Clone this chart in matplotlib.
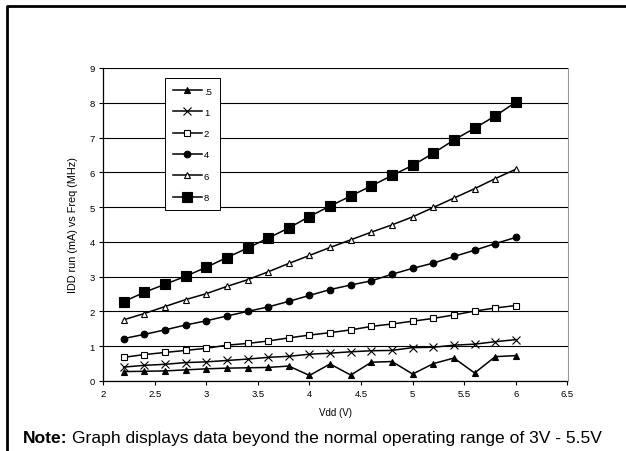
import matplotlib
matplotlib.use('Agg')
import matplotlib.pyplot as plt
from matplotlib.lines import Line2D

plt.rcParams['font.family'] = ['Liberation Sans', 'DejaVu Sans']

vdd = [2.2, 2.4, 2.6, 2.8, 3.0, 3.2, 3.4, 3.6, 3.8, 4.0,
       4.2, 4.4, 4.6, 4.8, 5.0, 5.2, 5.4, 5.6, 5.8, 6.0]

f05 = [0.27, 0.28, 0.29, 0.32, 0.35, 0.37, 0.38, 0.39, 0.43, 0.16,
       0.49, 0.17, 0.54, 0.56, 0.20, 0.50, 0.66, 0.23, 0.70, 0.73]
f1 = [0.40, 0.45, 0.48, 0.53, 0.55, 0.59, 0.63, 0.68, 0.71, 0.77,
      0.80, 0.84, 0.87, 0.88, 0.96, 0.97, 1.03, 1.06, 1.13, 1.19]
f2 = [0.68, 0.76, 0.82, 0.88, 0.94, 1.03, 1.08, 1.15, 1.24, 1.32,
      1.39, 1.47, 1.57, 1.64, 1.72, 1.80, 1.90, 2.01, 2.10, 2.17]
f4 = [1.22, 1.34, 1.47, 1.61, 1.73, 1.87, 2.00, 2.13, 2.29, 2.46,
      2.63, 2.76, 2.88, 3.07, 3.24, 3.39, 3.58, 3.76, 3.95, 4.13]
f6 = [1.76, 1.94, 2.14, 2.34, 2.51, 2.72, 2.91, 3.14, 3.38, 3.61,
      3.84, 4.06, 4.28, 4.49, 4.72, 4.99, 5.26, 5.53, 5.82, 6.09]
f8 = [2.28, 2.55, 2.78, 3.01, 3.27, 3.55, 3.82, 4.11, 4.40, 4.73,
      5.03, 5.32, 5.61, 5.91, 6.20, 6.55, 6.93, 7.27, 7.62, 8.02]

labels = ['.5', '1', '2', '4', '6', '8']
series = [f05, f1, f2, f4, f6, f8]
# marker, size, face colour
styles = [('^', 4.4, 'black'), ('x', 5.8, 'black'), ('s', 4.6, 'white'),
          ('o', 4.8, 'black'), ('^', 4.6, 'white'), ('s', 6.8, 'black')]

fig = plt.figure(figsize=(6.26, 4.52), dpi=100)
ax = fig.add_axes([103 / 626, 70 / 452, 464.5 / 626, 313 / 452])

for lab, ys, (m, ms, fc) in zip(labels, series, styles):
    ax.plot(vdd, ys, color='black', linewidth=1.1, marker=m, markersize=ms,
            markerfacecolor=fc, markeredgecolor='black', markeredgewidth=0.8,
            label=lab)

ax.set_xlim(2, 6.5)
ax.set_ylim(0, 9)
ax.set_xticks([2, 2.5, 3, 3.5, 4, 4.5, 5, 5.5, 6, 6.5])
ax.set_xticklabels(['2', '2.5', '3', '3.5', '4', '4.5', '5', '5.5', '6', '6.5'])
ax.set_yticks(range(10))
ax.yaxis.grid(True, color='black', linewidth=0.8)
ax.set_axisbelow(True)
ax.tick_params(labelsize=6.8, length=3, width=0.8, colors='black', pad=3)
ax.spines['top'].set_visible(False)
ax.spines['right'].set_color('#999999')
ax.spines['left'].set_linewidth(0.9)
ax.spines['bottom'].set_linewidth(0.9)
ax.set_xlabel('Vdd (V)', fontsize=7, labelpad=6)
ax.set_ylabel('IDD run (mA) vs Freq (MHz)', fontsize=7.8, labelpad=8)

leg = ax.legend(loc='upper left', bbox_to_anchor=(0.133, 0.968), fontsize=6.8,
                handlelength=3.0, labelspacing=1.3, borderpad=0.9,
                handletextpad=0.25, fancybox=False, framealpha=1,
                edgecolor='black', borderaxespad=0)
leg.get_frame().set_linewidth(0.7)

# outer frame of the figure box
fig.add_artist(Line2D([7 / 626, 7 / 626, 1.0], [0.0, 1 - 7 / 452, 1 - 7 / 452],
                      transform=fig.transFigure, color='black', linewidth=2))

note = fig.text(23 / 626, 1 - 443 / 452, 'Note:', fontsize=12.6,
                fontweight='bold', va='baseline')
ax.annotate('Graph displays data beyond the normal operating range of 3V - 5.5V',
            xy=(1, 0), xycoords=note, xytext=(3.5, 0), textcoords='offset points',
            fontsize=12.6, va='bottom', ha='left', annotation_clip=False)

fig.savefig('out.png', dpi=100)
